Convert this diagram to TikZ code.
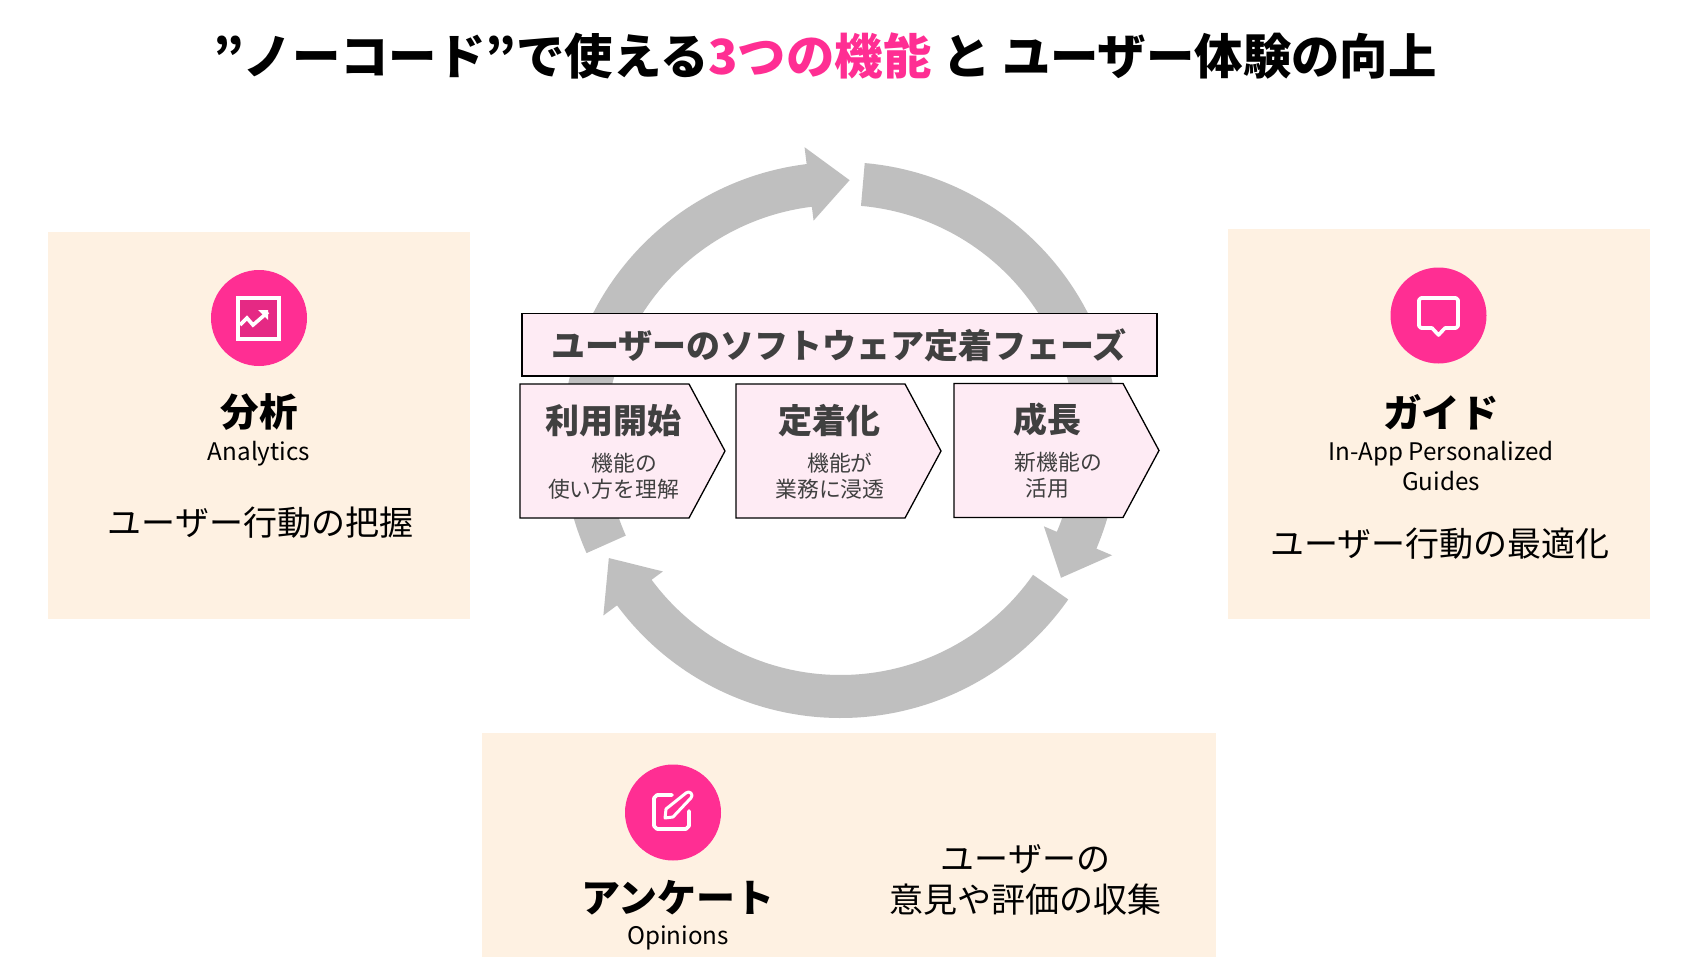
\documentclass[tikz,border=0pt]{standalone}
\usepackage{fontspec}
\setmainfont{Noto Sans CJK JP}
\usetikzlibrary{calc}

\definecolor{hotpink}{HTML}{FF2E93}
\definecolor{cream}{HTML}{FEF1E2}
\definecolor{blush}{HTML}{FEEBF4}
\definecolor{ringgray}{HTML}{BFBFBF}
\definecolor{inkgray}{HTML}{404040}

\tikzset{
    featurebox/.style={fill=cream},
    iconcircle/.style={circle, fill=hotpink, minimum size=96pt, inner sep=0pt},
    iconline/.style={draw=white, line width=3.6pt, line join=round, line cap=round},
    phasebox/.style={draw=black, fill=blush, line width=1.3pt},
    txt/.style={inner sep=0pt, align=center, font=\fontsize{#1}{#1}\selectfont},
    boldtxt/.style={inner sep=0pt, align=center, font=\fontsize{#1}{#1}\selectfont\bfseries},
}

% one block arrow of the ring: start angle, end angle, tip angle
\newcommand{\ringarrow}[3]{
    \fill [ringgray] ($(ring)+(#1:278)$) arc[start angle=#1, end angle=#2, radius=278pt]
        -- ($(ring)+(#2:295)$) -- ($(ring)+(#3:260)$) -- ($(ring)+(#2:221)$)
        -- ($(ring)+(#2:235)$) arc[start angle=#2, end angle=#1, radius=235pt] -- cycle;
}

\begin{document}
\begin{tikzpicture}[x=1pt, y=1pt]
    \useasboundingbox (0,0) rectangle (1696,-968);
    \fill [white] (0,0) rectangle (1696,-968);

    % Title
    \node [boldtxt=48.4] (title) at (825,-56) {”ノーコード”で使える{\color{hotpink}3つの機能} と ユーザー体験の向上};

    % Ring
    \coordinate (ring) at (840.5,-440);
    \ringarrow{204}{97}{88}
    \ringarrow{85}{-23}{-32}
    \ringarrow{-35}{-143.5}{-153}

    % Feature panels
    \fill [featurebox] (48,-232) rectangle (470,-619);
    \fill [featurebox] (1228,-229) rectangle (1650,-619);
    \fill [featurebox] (481.5,-732.5) rectangle (1216,-957);

    % Analysis
    \node [iconcircle] (analysisicon) at (259,-318) {};
    \fill [black!10!hotpink] (238,-298) rectangle (279,-339);
    \draw [iconline, line join=miter] (238,-298) rectangle (279,-339);
    \draw [iconline, line cap=butt, line join=miter] (240,-325) -- (247,-318) -- (253,-325) -- (268,-312);
    \fill [white] (258,-310) -- (268,-310) -- (268,-320) -- cycle;
    \node [boldtxt=38.5] (analysis) at (259,-412) {分析};
    \node [txt=24.2] (analysisen) at (259,-454) {Analytics};
    \node [txt=34] (analysistext) at (260.5,-523) {ユーザー行動の把握};

    % Guide
    \node [iconcircle] (guideicon) at (1438.5,-315.5) {};
    \draw [iconline] (1421,-298) -- (1456,-298) -- (1458,-300) -- (1458,-326) -- (1456,-328) -- (1445,-328)
        -- (1438.5,-335) -- (1432,-328) -- (1421,-328) -- (1419,-326) -- (1419,-300) -- cycle;
    \node [boldtxt=38.5] (guide) at (1441,-412) {ガイド};
    \node [txt=24.2] (guideen) at (1441,-466) {In-App Personalized\\[5pt]Guides};
    \node [txt=34] (guidetext) at (1440,-544) {ユーザー行動の最適化};

    % Opinions
    \node [iconcircle] (opinionicon) at (673,-812.5) {};
    \draw [iconline] (672,-795) -- (657,-795) -- (654,-798) -- (654,-826) -- (657,-829) -- (686,-829) -- (689,-826) -- (689,-811);
    \draw [iconline, line width=3pt] (665,-818) -- (666,-809) -- (686,-793) arc[start angle=135, end angle=-45, radius=3.5pt] -- (673,-817) -- cycle;
    \node [boldtxt=39] (opinion) at (678,-898) {アンケート};
    \node [txt=24.2] (opinionen) at (678,-938) {Opinions};
    \node [txt=34] (opiniontexta) at (1025.5,-859) {ユーザーの};
    \node [txt=34] (opiniontextb) at (1025.5,-900) {意見や評価の収集};

    % Phase header
    \filldraw [phasebox] (522,-313.5) rectangle (1157,-376);
    \node [boldtxt=34] (phasetitle) at (839,-345) {\color{inkgray}ユーザーのソフトウェア定着フェーズ};

    % Phase chevrons
    \foreach \x/\y in {520/-384, 736/-384, 954/-383.5} {
        \filldraw [phasebox] (\x,\y) -- ++(169,0) -- ++(36,-67) -- ++(-36,-67) -- ++(-169,0) -- cycle;
    }
    \node [boldtxt=34, text=inkgray] (start) at (613.5,-421) {利用開始};
    \node [txt=21.8, text=inkgray] (starta) at (624.5,-463) {機能の};
    \node [txt=21.8, text=inkgray] (startb) at (613.5,-489) {使い方を理解};
    \node [boldtxt=34, text=inkgray] (settle) at (829.5,-421) {定着化};
    \node [txt=21.8, text=inkgray] (settlea) at (840,-463) {機能が};
    \node [txt=21.8, text=inkgray] (settleb) at (830,-489) {業務に浸透};
    \node [boldtxt=34, text=inkgray] (growth) at (1047.5,-420) {成長};
    \node [txt=21.8, text=inkgray] (growtha) at (1058.5,-462) {新機能の};
    \node [txt=21.8, text=inkgray] (growthb) at (1047.5,-488) {活用};
\end{tikzpicture}
\end{document}
